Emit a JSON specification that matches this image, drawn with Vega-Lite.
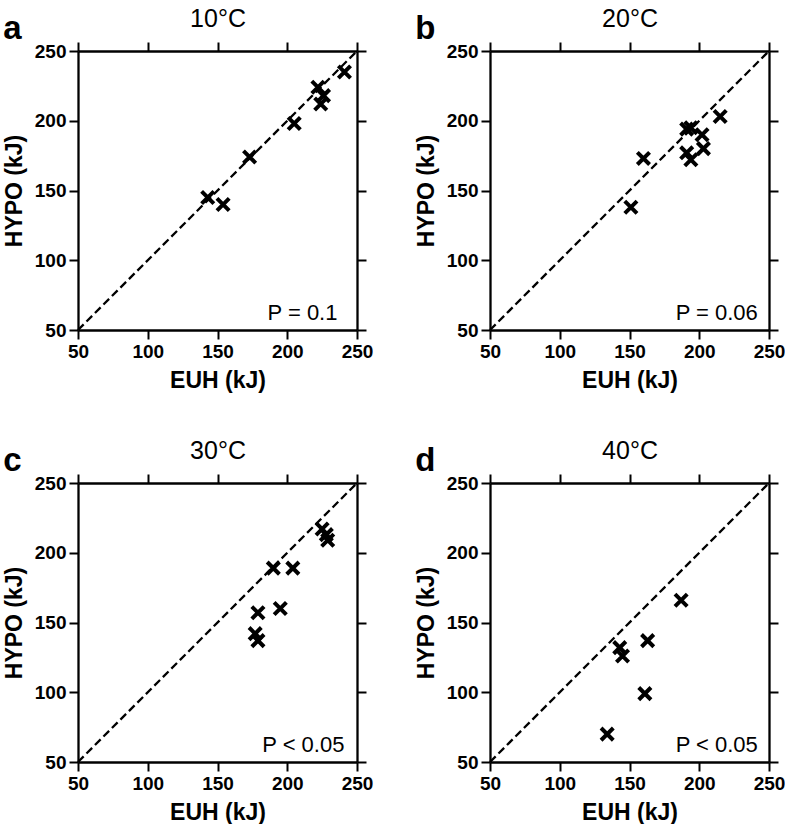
{
  "$schema": "https://vega.github.io/schema/vega-lite/v6.json",
  "padding": {"left": 3, "top": 6, "right": 0, "bottom": 0},
  "background": "white",
  "datasets": {
    "pts": [
      {"panel": "10°C", "EUH": 143, "HYPO": 145},
      {"panel": "10°C", "EUH": 154, "HYPO": 140},
      {"panel": "10°C", "EUH": 173, "HYPO": 174},
      {"panel": "10°C", "EUH": 205, "HYPO": 198},
      {"panel": "10°C", "EUH": 222, "HYPO": 224},
      {"panel": "10°C", "EUH": 226, "HYPO": 218},
      {"panel": "10°C", "EUH": 224, "HYPO": 212},
      {"panel": "10°C", "EUH": 241, "HYPO": 235},
      {"panel": "20°C", "EUH": 151, "HYPO": 138},
      {"panel": "20°C", "EUH": 160, "HYPO": 173},
      {"panel": "20°C", "EUH": 191, "HYPO": 194},
      {"panel": "20°C", "EUH": 194, "HYPO": 195},
      {"panel": "20°C", "EUH": 191, "HYPO": 177},
      {"panel": "20°C", "EUH": 194, "HYPO": 172},
      {"panel": "20°C", "EUH": 202, "HYPO": 190},
      {"panel": "20°C", "EUH": 203, "HYPO": 180},
      {"panel": "20°C", "EUH": 215, "HYPO": 203},
      {"panel": "30°C", "EUH": 190, "HYPO": 189},
      {"panel": "30°C", "EUH": 204, "HYPO": 189},
      {"panel": "30°C", "EUH": 195, "HYPO": 160},
      {"panel": "30°C", "EUH": 179, "HYPO": 157},
      {"panel": "30°C", "EUH": 177, "HYPO": 142},
      {"panel": "30°C", "EUH": 179, "HYPO": 137},
      {"panel": "30°C", "EUH": 225, "HYPO": 217},
      {"panel": "30°C", "EUH": 228, "HYPO": 213},
      {"panel": "30°C", "EUH": 229, "HYPO": 209},
      {"panel": "40°C", "EUH": 187, "HYPO": 166},
      {"panel": "40°C", "EUH": 163, "HYPO": 137},
      {"panel": "40°C", "EUH": 143, "HYPO": 132},
      {"panel": "40°C", "EUH": 145, "HYPO": 126},
      {"panel": "40°C", "EUH": 161, "HYPO": 99},
      {"panel": "40°C", "EUH": 134, "HYPO": 70}
    ],
    "diag": [{"x": 50, "y": 50}, {"x": 250, "y": 250}]
  },
  "columns": 2,
  "spacing": {"column": 42, "row": 46},
  "concat": [
    {
      "width": 279, "height": 279,
      "title": {"text": "a"},
      "layer": [
        {"data": {"name": "diag"}, "mark": {"type": "line", "strokeDash": [8, 4], "strokeWidth": 2.3, "color": "black"},
         "encoding": {
           "x": {"field": "x", "type": "quantitative", "scale": {"domain": [50, 250], "nice": false}, "axis": {"orient": "bottom", "title": "EUH (kJ)", "values": [50, 100, 150, 200, 250]}},
           "y": {"field": "y", "type": "quantitative", "scale": {"domain": [50, 250], "nice": false}, "axis": {"orient": "left", "title": "HYPO (kJ)", "values": [50, 100, 150, 200, 250]}}}},
        {"data": {"name": "pts"}, "transform": [{"filter": "datum.panel == '10°C'"}],
         "mark": {"type": "point", "shape": "M-1,-1L1,1M-1,1L1,-1", "filled": false, "stroke": "black", "strokeWidth": 4, "size": 150, "opacity": 1},
         "encoding": {
           "x": {"field": "EUH", "type": "quantitative", "scale": {"domain": [50, 250], "nice": false}, "axis": {"orient": "top", "labels": false, "title": "10°C", "titleFontWeight": "normal", "titleFontSize": 25, "titlePadding": 10, "values": [50, 100, 150, 200, 250]}},
           "y": {"field": "HYPO", "type": "quantitative", "scale": {"domain": [50, 250], "nice": false}, "axis": {"orient": "right", "labels": false, "title": null, "values": [50, 100, 150, 200, 250]}}}},
        {"data": {"values": [{"label": "P = 0.1"}]},
         "mark": {"type": "text", "align": "right", "baseline": "alphabetic", "fontSize": 22, "color": "black"},
         "encoding": {"x": {"datum": 236, "type": "quantitative", "axis": null}, "y": {"datum": 57, "type": "quantitative", "axis": null}, "text": {"field": "label"}}}
      ],
      "resolve": {"axis": {"x": "independent", "y": "independent"}}
    },
    {
      "width": 279, "height": 279,
      "title": {"text": "b"},
      "layer": [
        {"data": {"name": "diag"}, "mark": {"type": "line", "strokeDash": [8, 4], "strokeWidth": 2.3, "color": "black"},
         "encoding": {
           "x": {"field": "x", "type": "quantitative", "scale": {"domain": [50, 250], "nice": false}, "axis": {"orient": "bottom", "title": "EUH (kJ)", "values": [50, 100, 150, 200, 250]}},
           "y": {"field": "y", "type": "quantitative", "scale": {"domain": [50, 250], "nice": false}, "axis": {"orient": "left", "title": "HYPO (kJ)", "values": [50, 100, 150, 200, 250]}}}},
        {"data": {"name": "pts"}, "transform": [{"filter": "datum.panel == '20°C'"}],
         "mark": {"type": "point", "shape": "M-1,-1L1,1M-1,1L1,-1", "filled": false, "stroke": "black", "strokeWidth": 4, "size": 150, "opacity": 1},
         "encoding": {
           "x": {"field": "EUH", "type": "quantitative", "scale": {"domain": [50, 250], "nice": false}, "axis": {"orient": "top", "labels": false, "title": "20°C", "titleFontWeight": "normal", "titleFontSize": 25, "titlePadding": 10, "values": [50, 100, 150, 200, 250]}},
           "y": {"field": "HYPO", "type": "quantitative", "scale": {"domain": [50, 250], "nice": false}, "axis": {"orient": "right", "labels": false, "title": null, "values": [50, 100, 150, 200, 250]}}}},
        {"data": {"values": [{"label": "P = 0.06"}]},
         "mark": {"type": "text", "align": "right", "baseline": "alphabetic", "fontSize": 22, "color": "black"},
         "encoding": {"x": {"datum": 242, "type": "quantitative", "axis": null}, "y": {"datum": 57, "type": "quantitative", "axis": null}, "text": {"field": "label"}}}
      ],
      "resolve": {"axis": {"x": "independent", "y": "independent"}}
    },
    {
      "width": 279, "height": 279,
      "title": {"text": "c"},
      "layer": [
        {"data": {"name": "diag"}, "mark": {"type": "line", "strokeDash": [8, 4], "strokeWidth": 2.3, "color": "black"},
         "encoding": {
           "x": {"field": "x", "type": "quantitative", "scale": {"domain": [50, 250], "nice": false}, "axis": {"orient": "bottom", "title": "EUH (kJ)", "values": [50, 100, 150, 200, 250]}},
           "y": {"field": "y", "type": "quantitative", "scale": {"domain": [50, 250], "nice": false}, "axis": {"orient": "left", "title": "HYPO (kJ)", "values": [50, 100, 150, 200, 250]}}}},
        {"data": {"name": "pts"}, "transform": [{"filter": "datum.panel == '30°C'"}],
         "mark": {"type": "point", "shape": "M-1,-1L1,1M-1,1L1,-1", "filled": false, "stroke": "black", "strokeWidth": 4, "size": 150, "opacity": 1},
         "encoding": {
           "x": {"field": "EUH", "type": "quantitative", "scale": {"domain": [50, 250], "nice": false}, "axis": {"orient": "top", "labels": false, "title": "30°C", "titleFontWeight": "normal", "titleFontSize": 25, "titlePadding": 10, "values": [50, 100, 150, 200, 250]}},
           "y": {"field": "HYPO", "type": "quantitative", "scale": {"domain": [50, 250], "nice": false}, "axis": {"orient": "right", "labels": false, "title": null, "values": [50, 100, 150, 200, 250]}}}},
        {"data": {"values": [{"label": "P < 0.05"}]},
         "mark": {"type": "text", "align": "right", "baseline": "alphabetic", "fontSize": 22, "color": "black"},
         "encoding": {"x": {"datum": 241, "type": "quantitative", "axis": null}, "y": {"datum": 57, "type": "quantitative", "axis": null}, "text": {"field": "label"}}}
      ],
      "resolve": {"axis": {"x": "independent", "y": "independent"}}
    },
    {
      "width": 279, "height": 279,
      "title": {"text": "d"},
      "layer": [
        {"data": {"name": "diag"}, "mark": {"type": "line", "strokeDash": [8, 4], "strokeWidth": 2.3, "color": "black"},
         "encoding": {
           "x": {"field": "x", "type": "quantitative", "scale": {"domain": [50, 250], "nice": false}, "axis": {"orient": "bottom", "title": "EUH (kJ)", "values": [50, 100, 150, 200, 250]}},
           "y": {"field": "y", "type": "quantitative", "scale": {"domain": [50, 250], "nice": false}, "axis": {"orient": "left", "title": "HYPO (kJ)", "values": [50, 100, 150, 200, 250]}}}},
        {"data": {"name": "pts"}, "transform": [{"filter": "datum.panel == '40°C'"}],
         "mark": {"type": "point", "shape": "M-1,-1L1,1M-1,1L1,-1", "filled": false, "stroke": "black", "strokeWidth": 4, "size": 150, "opacity": 1},
         "encoding": {
           "x": {"field": "EUH", "type": "quantitative", "scale": {"domain": [50, 250], "nice": false}, "axis": {"orient": "top", "labels": false, "title": "40°C", "titleFontWeight": "normal", "titleFontSize": 25, "titlePadding": 10, "values": [50, 100, 150, 200, 250]}},
           "y": {"field": "HYPO", "type": "quantitative", "scale": {"domain": [50, 250], "nice": false}, "axis": {"orient": "right", "labels": false, "title": null, "values": [50, 100, 150, 200, 250]}}}},
        {"data": {"values": [{"label": "P < 0.05"}]},
         "mark": {"type": "text", "align": "right", "baseline": "alphabetic", "fontSize": 22, "color": "black"},
         "encoding": {"x": {"datum": 242, "type": "quantitative", "axis": null}, "y": {"datum": 57, "type": "quantitative", "axis": null}, "text": {"field": "label"}}}
      ],
      "resolve": {"axis": {"x": "independent", "y": "independent"}}
    }
  ],
  "config": {
    "font": "Liberation Sans",
    "view": {"stroke": null},
    "title": {"anchor": "start", "frame": "bounds", "fontSize": 33, "fontWeight": "bold", "color": "black", "offset": -35, "dy": 5},
    "text": {"font": "Liberation Sans"},
    "axis": {
      "grid": false,
      "domainColor": "black", "domainWidth": 2.3,
      "tickColor": "black", "tickWidth": 2, "tickSize": 9,
      "labelFont": "Liberation Sans", "labelFontSize": 19, "labelFontWeight": "bold", "labelColor": "black", "labelPadding": 3,
      "titleFont": "Liberation Sans", "titleFontSize": 23, "titleFontWeight": "bold", "titleColor": "black", "titlePadding": 8,
      "labelFlush": false, "labelOverlap": false
    }
  }
}
